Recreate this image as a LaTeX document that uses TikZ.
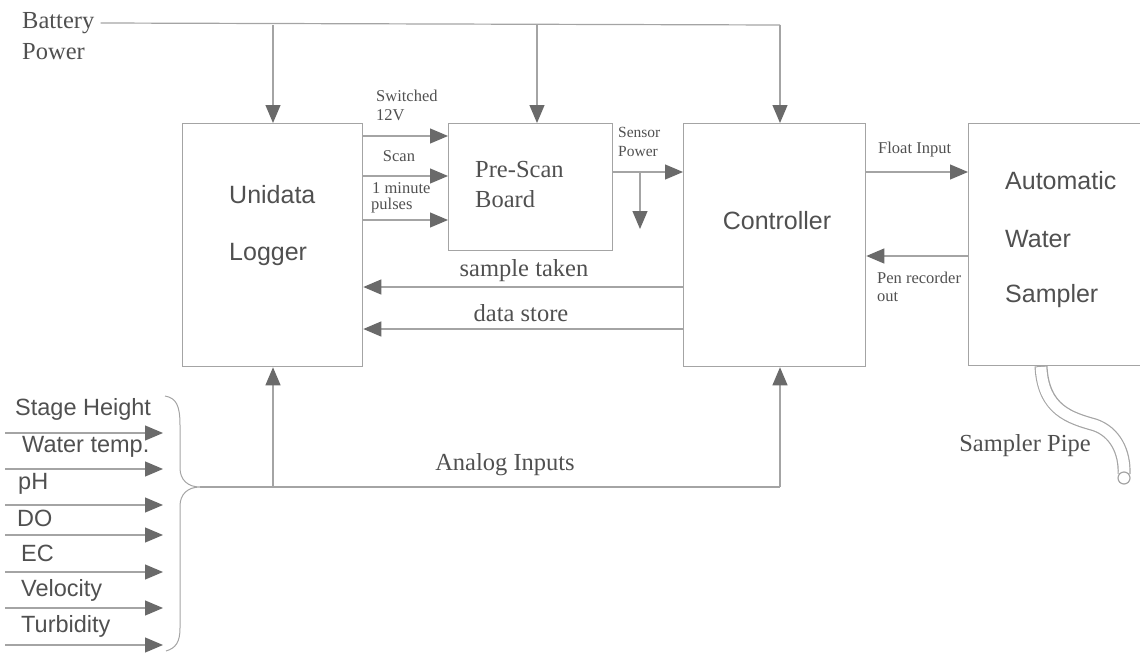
\documentclass[tikz,border=0pt]{standalone}
\usepackage{fontspec}
\setmainfont{Liberation Serif}
\setsansfont{Liberation Sans}
\usetikzlibrary{arrows.meta,calc}
\definecolor{ln}{HTML}{A4A4A4}
\definecolor{tip}{HTML}{6A6A6A}
\definecolor{txt}{HTML}{505050}
\begin{document}
\begin{tikzpicture}[x=1pt,y=-1pt,
  box/.style={draw=ln,line width=1.3pt,anchor=north west,inner sep=0pt},
  arr/.style={draw=ln,line width=1.2pt,-{Triangle[length=18pt,width=15pt,color=tip]}},
  wire/.style={draw=ln,line width=1.2pt},
  stxt/.style={text=txt,font=\fontsize{16.5}{19}\selectfont,align=left,inner sep=0pt},
  mtxt/.style={text=txt,font=\fontsize{24.5}{28}\selectfont,inner sep=0pt},
  btxt/.style={text=txt,font=\sffamily\fontsize{25}{28}\selectfont,inner sep=0pt,anchor=west},
  itxt/.style={text=txt,font=\sffamily\fontsize{23.5}{26}\selectfont,anchor=west,inner sep=0pt}]
\useasboundingbox (0,0) rectangle (1140,653);
% boxes
\node[box,minimum width=180pt,minimum height=243pt] (logger) at (182,123) {};
\node[box,minimum width=164pt,minimum height=127pt] (prescan) at (448,123) {};
\node[box,minimum width=182pt,minimum height=243pt] (ctrl) at (683,123) {};
\node[box,minimum width=180pt,minimum height=242pt] (sampler) at (968,123) {};
% box texts
\node[btxt] (t1) at (229,195) {Unidata};
\node[btxt] (t2) at (229,254) {Logger};
\node[mtxt,anchor=west] (t3) at (475,170) {Pre-Scan};
\node[mtxt,anchor=west] (t4) at (475,199) {Board};
\node[btxt,anchor=center] (t5) at (777,221) {Controller};
\node[btxt] (t6) at (1005,181) {Automatic};
\node[btxt] (t7) at (1005,239) {Water};
\node[btxt] (t8) at (1005,296) {Sampler};
% battery power
\node[mtxt,anchor=west] (bat1) at (22,23) {Battery};
\node[mtxt,anchor=west] (bat2) at (22,52) {Power};
\coordinate (bend) at (780,25);
\coordinate (b1) at (273,25);
\coordinate (b2) at (537,25);
\draw[wire] (bat1.east) ++(6,0) coordinate (bst) -- (bend);
\draw[arr] (b1) -- (logger.north -| b1);
\draw[arr] (b2) -- (prescan.north -| b2);
\draw[arr] (bend) -- (ctrl.north -| bend);
% logger -> prescan
\coordinate (s1) at (0,136);
\coordinate (s2) at (0,176);
\coordinate (s3) at (0,220);
\draw[arr] (logger.east |- s1) -- (prescan.west |- s1);
\draw[arr] (logger.east |- s2) -- (prescan.west |- s2);
\draw[arr] (logger.east |- s3) -- (prescan.west |- s3);
\node[stxt,anchor=west] (l1) at (376,96) {Switched};
\node[stxt,anchor=west] (l1b) at (376,115) {12V};
\node[stxt] (l2) at (399,156) {Scan};
\node[stxt,anchor=west] (l3) at (372,188) {1 minute};
\node[stxt,anchor=west] (l3b) at (371,206) {pulses};
% sensor power
\coordinate (sp) at (0,172);
\coordinate (spb) at (640,172);
\coordinate (spd) at (640,229);
\draw[arr] (prescan.east |- sp) -- (ctrl.west |- sp);
\draw[arr] (spb) -- (spd);
\node[stxt,font=\fontsize{15.5}{18}\selectfont,anchor=west] (l4) at (618,132) {Sensor};
\node[stxt,font=\fontsize{15.5}{18}\selectfont,anchor=west] (l4b) at (618,151) {Power};
% controller -> logger
\coordinate (st) at (0,287);
\coordinate (ds) at (0,329);
\draw[arr] (ctrl.west |- st) -- (logger.east |- st);
\draw[arr] (ctrl.west |- ds) -- (logger.east |- ds);
\node[mtxt] (l5) at (524,271) {sample taken};
\node[mtxt] (l6) at (521,313) {data store};
% controller <-> sampler
\coordinate (fi) at (0,172);
\coordinate (pr) at (0,256);
\draw[arr] (ctrl.east |- fi) -- (sampler.west |- fi);
\draw[arr] (sampler.west |- pr) -- (ctrl.east |- pr);
\node[stxt,anchor=west] (l7) at (878,150) {Float Input};
\node[stxt,anchor=west] (l8) at (877,278) {Pen recorder};
\node[stxt,anchor=west] (l8b) at (877,297) {out};
% analog inputs
\coordinate (tipb) at (200,487);
\coordinate (a1) at (273,487);
\coordinate (a2) at (780,487);
\draw[wire] (tipb) -- (a2);
\draw[arr] (a1) -- (logger.south -| a1);
\draw[arr] (a2) -- (ctrl.south -| a2);
\node[mtxt] (l9) at (505,465) {Analog Inputs};
% brace
\draw[wire,line width=1pt] (165,396) .. controls (176,398) and (180,405) .. (180,425) -- (180,468)
  .. controls (180,480) and (188,487) .. (tipb)
  .. controls (188,487) and (180,494) .. (180,506) -- (180,628)
  .. controls (180,642) and (176,648) .. (166,651);
% sensor inputs
\foreach \yy/\nm in {433/i1,469/i2,505/i3,535/i4,572/i5,608/i6,645/i7}{
  \coordinate (\nm s) at (5,\yy);
  \coordinate (\nm e) at (163,\yy);
  \draw[arr] (\nm s) -- (\nm e);
}
\node[itxt] (n1) at (15,409) {Stage Height};
\node[itxt] (n2) at (22,447) {Water temp.};
\node[itxt] (n3) at (18,484) {pH};
\node[itxt] (n4) at (17,518) {DO};
\node[itxt] (n5) at (21,553) {EC};
\node[itxt] (n6) at (21,590) {Velocity};
\node[itxt] (n7) at (21,626) {Turbidity};
% sampler pipe
\coordinate (p0) at (1041,366);
\coordinate (p1) at (1095,425);
\coordinate (p2) at (1124,474);
\draw[draw=ln,line width=13pt] (p0) .. controls (1043,410) and (1070,418) .. (p1) .. controls (1115,432) and (1125,452) .. (p2);
\draw[draw=white,line width=10.6pt] (1041,367) .. controls (1043,410) and (1070,418) .. (p1) .. controls (1115,432) and (1125,452) .. (p2);
\draw[draw=ln,line width=1.2pt,fill=white] (1124,478) circle (6pt);
\node[mtxt] (l10) at (1025,446) {Sampler Pipe};
\end{tikzpicture}
\end{document}
